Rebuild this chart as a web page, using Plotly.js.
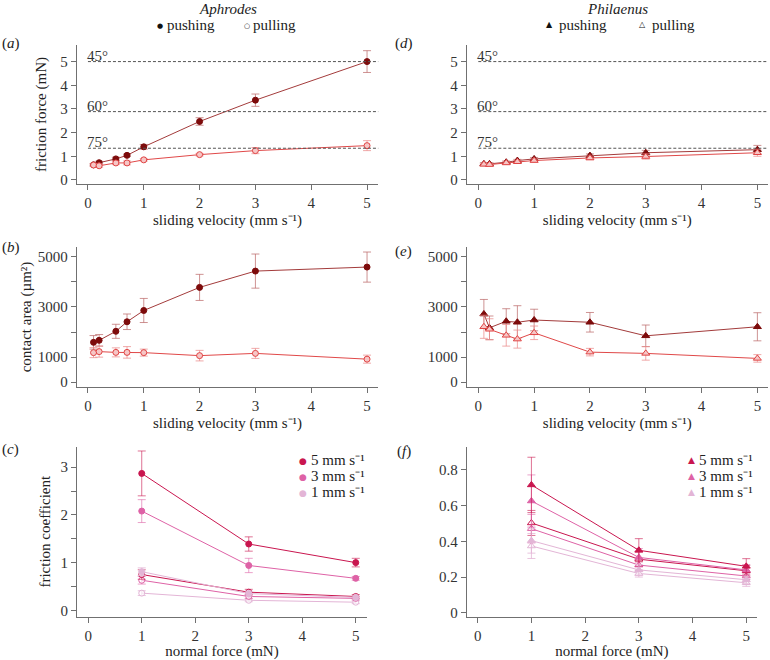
<!DOCTYPE html>
<html>
<head>
<meta charset="utf-8">
<script src="https://cdn.plot.ly/plotly-3.0.1.min.js"></script>
<style>html,body{margin:0;padding:0;background:#fff;}#chart{width:770px;height:660px;}</style>
</head>
<body>
<div id="chart"></div>
<script>
// ---------- data ----------
var velocities = [0.1, 0.2, 0.5, 0.7, 1, 2, 3, 5];
var normalForces = [1, 3, 5];

// (a) Aphrodes friction force (mN)
var aphFricPush    = [0.64, 0.73, 0.89, 1.04, 1.40, 2.47, 3.37, 5.0];
var aphFricPushErr = [0.04, 0.06, 0.07, 0.05, 0.10, 0.16, 0.26, 0.46];
var aphFricPull    = [0.63, 0.60, 0.72, 0.72, 0.85, 1.07, 1.24, 1.45];
var aphFricPullErr = [0.05, 0.06, 0.07, 0.08, 0.05, 0.05, 0.13, 0.21];

// (d) Philaenus friction force (mN)
var phiFricPush    = [0.68, 0.68, 0.75, 0.82, 0.89, 1.03, 1.15, 1.28];
var phiFricPushErr = [0.05, 0.05, 0.05, 0.05, 0.06, 0.07, 0.10, 0.18];
var phiFricPull    = [0.66, 0.65, 0.72, 0.77, 0.82, 0.93, 0.99, 1.15];
var phiFricPullErr = [0.04, 0.05, 0.05, 0.06, 0.07, 0.08, 0.11, 0.15];

// (b) Aphrodes contact area (um^2)
var aphAreaPush    = [1590, 1670, 2030, 2410, 2860, 3780, 4430, 4590];
var aphAreaPushErr = [270, 230, 280, 310, 480, 520, 680, 600];
var aphAreaPull    = [1180, 1220, 1190, 1190, 1180, 1060, 1150, 920];
var aphAreaPullErr = [200, 220, 180, 230, 140, 210, 200, 160];

// (e) Philaenus contact area (um^2)
var phiAreaPush    = [2720, 2170, 2430, 2390, 2480, 2390, 1850, 2210];
var phiAreaPushErr = [580, 470, 500, 660, 430, 390, 430, 560];
var phiAreaPull    = [2210, 2110, 1870, 1720, 1970, 1200, 1150, 950];
var phiAreaPullErr = [460, 420, 430, 360, 270, 150, 270, 150];

// (c) Aphrodes friction coefficient
var aphCoef5Push = [2.87, 1.39, 1.00], aphCoef5PushErr = [0.47, 0.15, 0.09];
var aphCoef3Push = [2.08, 0.94, 0.67], aphCoef3PushErr = [0.24, 0.15, 0.04];
var aphCoef1Push = [0.81, 0.35, 0.27], aphCoef1PushErr = [0.08, 0.05, 0.03];
var aphCoef5Pull = [0.75, 0.38, 0.29], aphCoef5PullErr = [0.10, 0.06, 0.04];
var aphCoef3Pull = [0.63, 0.29, 0.25], aphCoef3PullErr = [0.08, 0.04, 0.03];
var aphCoef1Pull = [0.36, 0.21, 0.17], aphCoef1PullErr = [0.05, 0.03, 0.03];

// (f) Philaenus friction coefficient
var phiCoef5Push = [0.716, 0.350, 0.260], phiCoef5PushErr = [0.155, 0.065, 0.043];
var phiCoef3Push = [0.626, 0.310, 0.240], phiCoef3PushErr = [0.146, 0.050, 0.030];
var phiCoef1Push = [0.404, 0.240, 0.185], phiCoef1PushErr = [0.070, 0.030, 0.020];
var phiCoef5Pull = [0.503, 0.300, 0.235], phiCoef5PullErr = [0.070, 0.040, 0.030];
var phiCoef3Pull = [0.471, 0.267, 0.206], phiCoef3PullErr = [0.080, 0.030, 0.020];
var phiCoef1Pull = [0.374, 0.220, 0.168], phiCoef1PullErr = [0.070, 0.020, 0.020];

// reference lines: friction force at contact angle (normal force 5 mN)
var angleLabels = ['45°', '60°', '75°'];
var angleValues = [5, 2.887, 1.34];

var velTicks = [0, 1, 2, 3, 4, 5];
var forceTicks = [0, 1, 2, 3, 4, 5];
var areaTickVals = [0, 1000, 2000, 3000, 4000, 5000];
var areaTickText = ['0', '1000', '', '3000', '', '5000'];
var coefATickVals = [0, 0.5, 1, 1.5, 2, 2.5, 3];
var coefATickText = ['0', '', '1', '', '2', '', '3'];
var coefPTickVals = [0, 0.2, 0.4, 0.6, 0.8];
var coefPTickText = ['0', '0.2', '0.4', '0.6', '0.8'];
var speedLabels = ['5 mm s⁻¹', '3 mm s⁻¹', '1 mm s⁻¹'];

// ---------- styles ----------
var FONT = 'Liberation Serif, Times New Roman, serif';
var pushLine = '#a33b3b', pushMarker = '#7d0b0b', pushErr = 'rgba(190,110,110,0.75)';
var pullLine = '#e04848', pullMarker = '#e04444', pullFill = '#f6c6c6', pullErr = 'rgba(235,140,140,0.75)';
var c5 = '#c9164f', c3 = '#de62a6', c1 = '#e3b5d6';
var c5e = 'rgba(201,22,79,0.6)', c3e = 'rgba(222,98,166,0.6)', c1e = 'rgba(227,181,214,0.8)';

function tr(x, y, err, xa, ya, opt) {
  return {
    type: 'scatter', mode: 'lines+markers', x: x, y: y, xaxis: xa, yaxis: ya,
    showlegend: false, hoverinfo: 'x+y',
    line: {color: opt.line, width: 1},
    marker: {symbol: opt.symbol, size: opt.size, color: opt.fill, line: {color: opt.mline, width: 1}},
    error_y: {type: 'data', array: err, visible: true, color: opt.err, thickness: 1, width: 4}
  };
}
var pushCirc = {line: pushLine, symbol: 'circle', size: 6, fill: pushMarker, mline: pushMarker, err: pushErr};
var pullCirc = {line: pullLine, symbol: 'circle', size: 6, fill: pullFill, mline: pullMarker, err: pullErr};
var pushTri = {line: pushLine, symbol: 'triangle-up', size: 7, fill: pushMarker, mline: pushMarker, err: pushErr};
var pullTri = {line: pullLine, symbol: 'triangle-up', size: 7, fill: pullFill, mline: pullMarker, err: pullErr};
function cs(col, ecol, symbol, open) {
  return {line: col, symbol: symbol, size: symbol === 'circle' ? 6 : 7,
          fill: open ? 'rgba(255,255,255,0.6)' : col, mline: col, err: ecol};
}

var data = [
  tr(velocities, aphFricPush, aphFricPushErr, 'x', 'y', pushCirc),
  tr(velocities, aphFricPull, aphFricPullErr, 'x', 'y', pullCirc),
  tr(velocities, phiFricPush, phiFricPushErr, 'x2', 'y2', pushTri),
  tr(velocities, phiFricPull, phiFricPullErr, 'x2', 'y2', pullTri),
  tr(velocities, aphAreaPush, aphAreaPushErr, 'x3', 'y3', pushCirc),
  tr(velocities, aphAreaPull, aphAreaPullErr, 'x3', 'y3', pullCirc),
  tr(velocities, phiAreaPush, phiAreaPushErr, 'x4', 'y4', pushTri),
  tr(velocities, phiAreaPull, phiAreaPullErr, 'x4', 'y4', pullTri),
  tr(normalForces, aphCoef1Pull, aphCoef1PullErr, 'x5', 'y5', cs(c1, c1e, 'circle', true)),
  tr(normalForces, aphCoef3Pull, aphCoef3PullErr, 'x5', 'y5', cs(c3, c3e, 'circle', true)),
  tr(normalForces, aphCoef5Pull, aphCoef5PullErr, 'x5', 'y5', cs(c5, c5e, 'circle', true)),
  tr(normalForces, aphCoef1Push, aphCoef1PushErr, 'x5', 'y5', cs(c1, c1e, 'circle', false)),
  tr(normalForces, aphCoef3Push, aphCoef3PushErr, 'x5', 'y5', cs(c3, c3e, 'circle', false)),
  tr(normalForces, aphCoef5Push, aphCoef5PushErr, 'x5', 'y5', cs(c5, c5e, 'circle', false)),
  tr(normalForces, phiCoef1Pull, phiCoef1PullErr, 'x6', 'y6', cs(c1, c1e, 'triangle-up', true)),
  tr(normalForces, phiCoef3Pull, phiCoef3PullErr, 'x6', 'y6', cs(c3, c3e, 'triangle-up', true)),
  tr(normalForces, phiCoef5Pull, phiCoef5PullErr, 'x6', 'y6', cs(c5, c5e, 'triangle-up', true)),
  tr(normalForces, phiCoef1Push, phiCoef1PushErr, 'x6', 'y6', cs(c1, c1e, 'triangle-up', false)),
  tr(normalForces, phiCoef3Push, phiCoef3PushErr, 'x6', 'y6', cs(c3, c3e, 'triangle-up', false)),
  tr(normalForces, phiCoef5Push, phiCoef5PushErr, 'x6', 'y6', cs(c5, c5e, 'triangle-up', false))
];

// ---------- layout ----------
var W = 770, H = 660;
function dx(a, b) { return [a / W, b / W]; }
function dy(top, bottom) { return [1 - bottom / H, 1 - top / H]; }
function ax(extra) {
  var base = {showline: true, linecolor: '#707070', linewidth: 1, ticks: 'outside', ticklen: 5,
    tickcolor: '#707070', tickwidth: 1, showgrid: false, zeroline: false, fixedrange: true,
    tickfont: {family: FONT, size: 15, color: '#333'}};
  for (var k in extra) base[k] = extra[k];
  return base;
}
var tfont = {family: FONT, size: 15, color: '#222'};
var velTitle = {text: 'sliding velocity (mm s⁻¹)', font: tfont, standoff: 4};

var layout = {
  width: W, height: H, margin: {l: 0, r: 0, t: 0, b: 0},
  paper_bgcolor: '#fff', plot_bgcolor: '#fff', showlegend: false,
  font: {family: FONT, size: 15, color: '#222'},
  // (a)
  xaxis: ax({domain: dx(76.8, 378.2), range: [-0.2, 5.2], tickvals: velTicks, anchor: 'y', title: velTitle}),
  yaxis: ax({domain: dy(45, 184), range: [-0.17, 5.7], tickvals: forceTicks, anchor: 'x',
    title: {text: 'friction force (mN)', font: tfont, standoff: 10}}),
  // (d)
  xaxis2: ax({domain: dx(466.7, 768), range: [-0.208, 5.19], tickvals: velTicks, anchor: 'y2', title: velTitle}),
  yaxis2: ax({domain: dy(45, 184), range: [-0.17, 5.7], tickvals: forceTicks, anchor: 'x2'}),
  // (b)
  xaxis3: ax({domain: dx(76.8, 378.2), range: [-0.2, 5.2], tickvals: velTicks, anchor: 'y3', title: velTitle}),
  yaxis3: ax({domain: dy(247, 387), range: [-190, 5390], tickvals: areaTickVals, ticktext: areaTickText, anchor: 'x3',
    title: {text: 'contact area (µm²)', font: tfont, standoff: 2}}),
  // (e)
  xaxis4: ax({domain: dx(466.7, 768), range: [-0.208, 5.19], tickvals: velTicks, anchor: 'y4', title: velTitle}),
  yaxis4: ax({domain: dy(247, 387), range: [-190, 5390], tickvals: areaTickVals, ticktext: areaTickText, anchor: 'x4'}),
  // (c)
  xaxis5: ax({domain: dx(77, 367), range: [-0.21, 5.21], tickvals: velTicks, anchor: 'y5',
    title: {text: 'normal force (mN)', font: tfont, standoff: 8}}),
  yaxis5: ax({domain: dy(446.7, 616.7), range: [-0.134, 3.43], tickvals: coefATickVals, ticktext: coefATickText, anchor: 'x5',
    title: {text: 'friction coefficient', font: tfont, standoff: 6}}),
  // (f)
  xaxis6: ax({domain: dx(466.7, 757), range: [-0.205, 5.2], tickvals: velTicks, anchor: 'y6',
    title: {text: 'normal force (mN)', font: tfont, standoff: 8}}),
  yaxis6: ax({domain: dy(446.7, 616.7), range: [-0.022, 0.93], tickvals: coefPTickVals, ticktext: coefPTickText, anchor: 'x6'}),
  shapes: [],
  annotations: []
};

// dashed angle lines and their labels in (a) and (d)
[['x', 'y'], ['x2', 'y2']].forEach(function (p) {
  angleValues.forEach(function (v, i) {
    layout.shapes.push({type: 'line', xref: p[0], yref: p[1], x0: 0, x1: 5.25, y0: v, y1: v,
      line: {color: '#555', width: 1, dash: '3px,2px'}});
    layout.annotations.push({xref: p[0], yref: p[1], x: 0, y: v, xanchor: 'left', yanchor: 'bottom',
      yshift: -4, xshift: -3, showarrow: false, text: angleLabels[i], font: {family: FONT, size: 15, color: '#333'}});
  });
});

function pa(x, y, text, opt) {
  var a = {xref: 'paper', yref: 'paper', x: x / W, y: 1 - y / H, text: text, showarrow: false,
    xanchor: 'left', yanchor: 'middle', font: {family: FONT, size: 15, color: '#222'}};
  for (var k in (opt || {})) a[k] = opt[k];
  return a;
}
function glyph(x, y, ch, size, color) {
  return pa(x, y, ch, {xanchor: 'center', font: {family: 'DejaVu Sans', size: size, color: color}});
}
// panel letters
[['a', 0, 44], ['d', 393, 44], ['b', 0, 248], ['e', 393, 251], ['c', 0, 449], ['f', 395, 451]].forEach(function (p) {
  layout.annotations.push(pa(p[1], p[2], '(<i>' + p[0] + '</i>)'));
});
// species headers
layout.annotations.push(pa(228, 9, '<i>Aphrodes</i>', {xanchor: 'center'}));
layout.annotations.push(pa(617, 9, '<i>Philaenus</i>', {xanchor: 'center'}));
layout.annotations.push(glyph(160, 26, '●', 7, '#111'));
layout.annotations.push(pa(165, 25, 'pushing'));
layout.annotations.push(glyph(247, 26, '○', 7, '#111'));
layout.annotations.push(pa(251, 25, 'pulling'));
layout.annotations.push(glyph(549, 25, '▲', 8, '#111'));
layout.annotations.push(pa(557, 25, 'pushing'));
layout.annotations.push(glyph(642, 25, '△', 8, '#111'));
layout.annotations.push(pa(650, 25, 'pulling'));

// speed keys in (c) and (f)
var speedColors = [c5, c3, c1];
var rowY = [460, 476, 492];
speedLabels.forEach(function (t, i) {
  layout.annotations.push(glyph(303, rowY[i] + 1, '●', 9, speedColors[i]));
  layout.annotations.push(pa(309, rowY[i], t));
  layout.annotations.push(glyph(691, rowY[i], '▲', 9, speedColors[i]));
  layout.annotations.push(pa(697, rowY[i], t));
});

Plotly.newPlot('chart', data, layout, {displayModeBar: false, staticPlot: true});
</script>
</body>
</html>
